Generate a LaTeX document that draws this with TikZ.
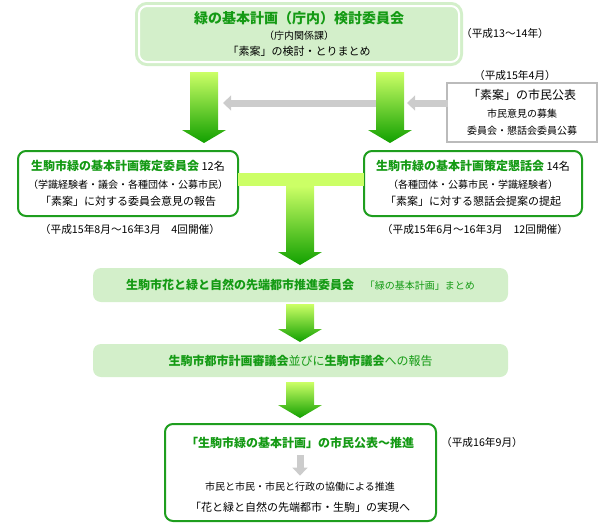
\documentclass[tikz,border=0pt]{standalone}
\usepackage{fontspec}
\setmainfont{Noto Sans CJK JP}
\usepackage{xcolor}
\usepackage{tikz}
\usetikzlibrary{arrows.meta,calc}

\definecolor{titlegreen}{RGB}{20,154,20}
\definecolor{bordergreen}{RGB}{30,158,30}
\definecolor{palegreen}{RGB}{211,239,202}
\definecolor{arrowtop}{RGB}{204,255,102}
\definecolor{arrowbot}{RGB}{17,160,0}
\definecolor{lightgray}{RGB}{204,204,204}
\definecolor{boxgray}{RGB}{187,187,187}

\newcommand{\ttlfont}{\fontsize{9}{13}\selectfont\bfseries\color{titlegreen}}
\newcommand{\bodyfont}{\fontsize{8.25}{13}\selectfont}
\newcommand{\smallfont}{\fontsize{7.5}{13}\selectfont}
% green block arrow, #1 = top of shaft, #2 = tip
\newcommand{\greenarrow}[2]{%
  \shade[top color=arrowtop,bottom color=arrowbot]
    ($(#1)+(-14,0)$) -- ($(#1)+(14,0)$) -- ($(#2)+(14,-13)$) -- ($(#2)+(22,-13)$)
    -- (#2) -- ($(#2)+(-22,-13)$) -- ($(#2)+(-14,-13)$) -- cycle;}

\tikzset{
  planbox/.style={fill=palegreen, draw=palegreen, line width=2.25pt, double=white,
    double distance=1.5pt, rounded corners=6pt, align=center,
    minimum width=240pt, minimum height=42pt, font=\fontsize{8.25}{12}\selectfont},
  greenbox/.style={draw=bordergreen, line width=1.5pt, fill=white, rounded corners=6pt, align=center},
  palebox/.style={fill=palegreen, rounded corners=6pt, align=center,
    minimum width=311.25pt, minimum height=25.5pt},
  graybox/.style={draw=boxgray, line width=1.125pt, fill=white, align=center,
    minimum width=112.5pt, minimum height=44.25pt},
  datenote/.style={font=\fontsize{8}{13}\selectfont},
  grayarrow/.style={lightgray, line width=5.25pt, -{Triangle[length=6pt,width=11pt]}}
}

\begin{document}
\begin{tikzpicture}[x=0.75pt, y=-0.75pt, every node/.style={inner sep=0pt, outer sep=0pt, font=\bodyfont}]
  \useasboundingbox (0,0) rectangle (600,532);
  % ---- top: committee in the city office ----
  \node[planbox] (plan) at (299,34)
    {{\fontsize{10.5}{12}\selectfont\bfseries\color{titlegreen}緑の基本計画（庁内）検討委員会}\\
     {\smallfont（庁内関係課）}\\
     「素案」の検討・とりまとめ};
  \node[datenote] (d1) at (505,33) {（平成13～14年）};
  \node[datenote] (d2) at (515,75) {（平成15年4月）};
  \node[graybox] (koho) at (522,112.5)
    {{\fontsize{9}{13}\selectfont「素案」の市民公表}\\
     {\smallfont 市民意見の募集}\\
     {\smallfont 委員会・懇話会委員公募}};
  % ---- arrows down to the two committees ----
  \coordinate (aL) at (204,72);
  \coordinate (aLtip) at (204,143);
  \coordinate (aR) at (390,72);
  \coordinate (aRtip) at (390,143);
  \coordinate (g1s) at (380,103);
  \coordinate (g1t) at (223,103);
  \coordinate (g2s) at (448,103);
  \coordinate (g2t) at (407,103);
  \draw[grayarrow] (g1s) -- (g1t);
  \draw[grayarrow] (g2s) -- (g2t);
  \greenarrow{aL}{aLtip}
  \greenarrow{aR}{aRtip}
  % ---- the two committees ----
  \node[greenbox, minimum width=165pt, minimum height=48.75pt] (iinkai) at (128,183.5)
    {{\ttlfont 生駒市緑の基本計画策定委員会} 12名\\
     {\smallfont（学識経験者・議会・各種団体・公募市民）}\\
     「素案」に対する委員会意見の報告};
  \node[datenote] (d3) at (130,229) {（平成15年8月～16年3月\quad 4回開催）};
  \node[greenbox, minimum width=163.5pt, minimum height=48.75pt] (konwakai) at (473,183.5)
    {{\ttlfont 生駒市緑の基本計画策定懇話会} 14名\\
     {\smallfont（各種団体・公募市民・学識経験者）}\\
     「素案」に対する懇話会提案の提起};
  \node[datenote] (d4) at (475,229) {（平成15年6月～16年3月\quad 12回開催）};
  % ---- joining bar and arrow ----
  \coordinate (tjoin) at (300,186);
  \coordinate (ttip) at (300,265);
  \fill[arrowtop] (iinkai.east |- 0,173) rectangle (konwakai.west |- 0,186);
  \greenarrow{tjoin}{ttip}
  % ---- promotion committee and report ----
  \node[palebox] (suishin) at (300.5,285)
    {{\ttlfont 生駒市花と緑と自然の先端都市推進委員会}\hspace{8pt}{\smallfont\color{titlegreen}「緑の基本計画」まとめ}};
  \coordinate (a4) at (300,304);
  \coordinate (a4tip) at (300,342);
  \greenarrow{a4}{a4tip}
  \node[palebox, minimum height=24.75pt] (hokoku) at (300.5,360.5)
    {\fontsize{9}{13}\selectfont\color{titlegreen}{\bfseries 生駒市都市計画審議会}並びに{\bfseries 生駒市議会}への報告};
  \coordinate (a5) at (300,382);
  \coordinate (a5tip) at (300,418);
  \greenarrow{a5}{a5tip}
  % ---- publication ----
  \node[greenbox, minimum width=203.25pt, minimum height=72.75pt] (kohyo) at (300.5,472.5) {};
  \node[font=\ttlfont] (kohyot) at (300,443) {「生駒市緑の基本計画」の市民公表～推進};
  \node[font=\smallfont] (kyodo) at (300,487) {市民と市民・市民と行政の協働による推進};
  \node (jitsugen) at (300,507) {「花と緑と自然の先端都市・生駒」の実現へ};
  \draw[grayarrow, shorten <=5pt, shorten >=5pt] (kohyot) -- (kyodo);
  \node[datenote] (d5) at (482,442) {（平成16年9月）};
\end{tikzpicture}
\end{document}
